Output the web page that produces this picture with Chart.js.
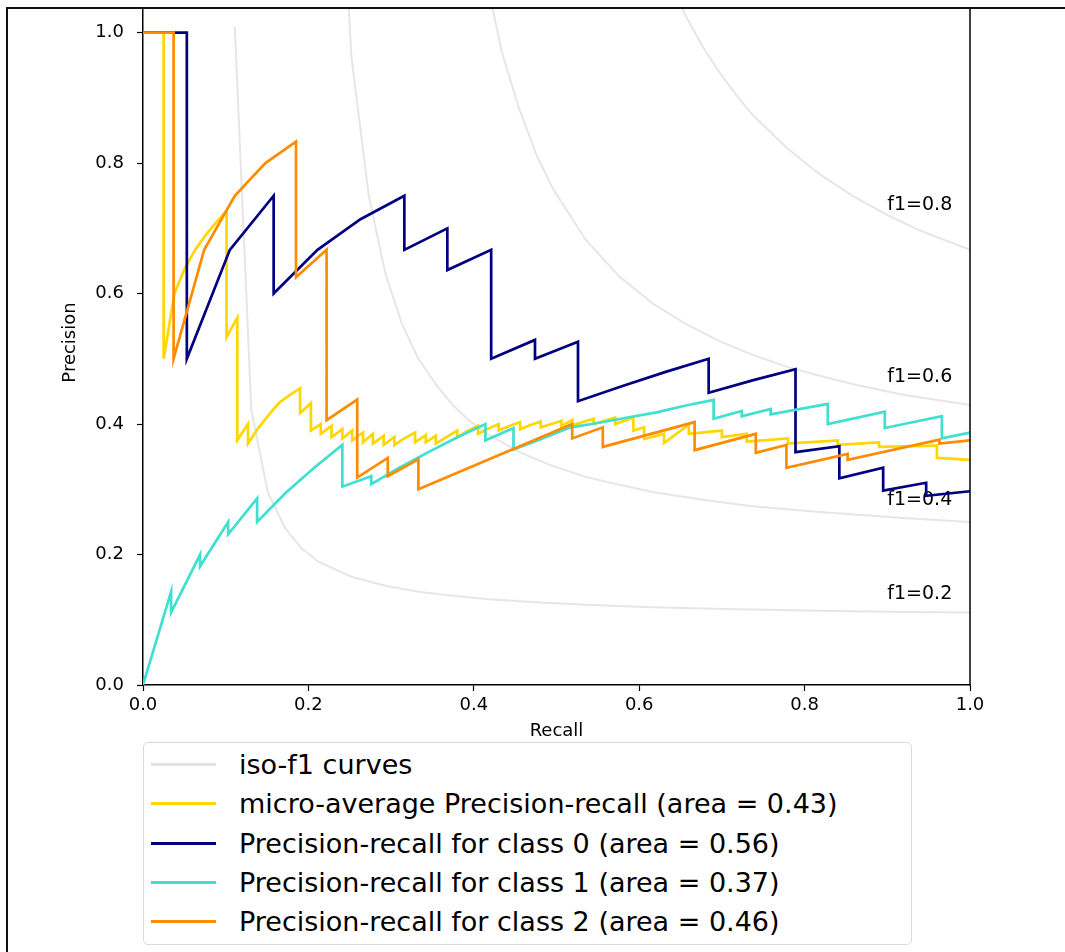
<!DOCTYPE html>
<html>
<head>
<meta charset="utf-8">
<script src="https://cdn.jsdelivr.net/npm/chart.js@4.4.1/dist/chart.umd.min.js"></script>
<style>
html, body { margin: 0; padding: 0; background: #fff; }
#wrap { position: relative; width: 1065px; height: 952px; overflow: hidden; }
#myChart { position: absolute; left: 0; top: 0; }
#legend { position: absolute; left: 143px; top: 742px; width: 767px; height: 201px;
  border: 1px solid #dadada; border-radius: 5px; background: #fff;
  font-family: "DejaVu Sans"; font-size: 27px; color: #000; }
.row { position: absolute; left: 0; width: 100%; height: 39px; }
.row .sw { position: absolute; left: 7px; width: 65px; height: 3px; top: 18px; }
.row .tx { position: absolute; left: 95px; top: 0; line-height: 39px; white-space: nowrap; }
</style>
</head>
<body>
<div id="wrap">
<canvas id="myChart" width="1065" height="952"></canvas>
<div id="legend"></div>
</div>
<script>
var canvas = document.getElementById('myChart');

// axes
var xTicks = [0, 0.2, 0.4, 0.6, 0.8, 1.0];
var yTicks = [0, 0.2, 0.4, 0.6, 0.8, 1.0];

// iso-f1 curves
var iso02x = [0.111, 0.131, 0.151, 0.172, 0.192, 0.212, 0.252, 0.293, 0.333, 0.374, 0.414, 0.475, 0.535, 0.616, 0.717, 0.818, 0.919, 1.0];
var iso02y = [1.009, 0.421, 0.295, 0.240, 0.209, 0.189, 0.166, 0.152, 0.143, 0.137, 0.132, 0.127, 0.123, 0.119, 0.116, 0.114, 0.112, 0.111];
var iso04x = [0.212, 0.232, 0.252, 0.273, 0.293, 0.313, 0.333, 0.354, 0.374, 0.394, 0.414, 0.455, 0.495, 0.535, 0.576, 0.616, 0.677, 0.737, 0.818, 0.919, 1.0];
var iso04y = [3.53, 1.442, 0.963, 0.750, 0.631, 0.554, 0.500, 0.461, 0.430, 0.406, 0.387, 0.357, 0.336, 0.319, 0.307, 0.296, 0.284, 0.274, 0.265, 0.256, 0.250];
var iso06x = [0.394, 0.414, 0.434, 0.455, 0.475, 0.495, 0.535, 0.576, 0.616, 0.657, 0.697, 0.737, 0.778, 0.818, 0.859, 0.919, 1.0];
var iso06y = [1.259, 1.089, 0.970, 0.883, 0.815, 0.762, 0.683, 0.626, 0.585, 0.553, 0.527, 0.506, 0.488, 0.474, 0.461, 0.445, 0.429];
var iso08x = [0.616, 0.636, 0.657, 0.677, 0.697, 0.717, 0.737, 0.778, 0.818, 0.859, 0.899, 0.939, 1.0];
var iso08y = [1.140, 1.077, 1.024, 0.978, 0.939, 0.905, 0.874, 0.824, 0.783, 0.749, 0.721, 0.697, 0.667];

var f1Names = ['f1=0.2', 'f1=0.4', 'f1=0.6', 'f1=0.8'];
var f1LabelX = [0.9, 0.9, 0.9, 0.9];
var f1LabelY = [0.132, 0.276, 0.465, 0.728];

// micro-average
var microRecall = [0, 0.025, 0.025, 0.038, 0.051, 0.063, 0.076, 0.089, 0.101, 0.101, 0.114, 0.114, 0.127, 0.127, 0.139, 0.152, 0.165, 0.177, 0.19, 0.19, 0.203, 0.203,
  0.215, 0.215, 0.228, 0.228, 0.241, 0.241, 0.253, 0.253, 0.266, 0.266, 0.278, 0.278, 0.291, 0.291, 0.304, 0.304, 0.316, 0.329, 0.329, 0.342, 0.342, 0.354, 0.354,
  0.367, 0.38, 0.38, 0.392, 0.405, 0.405, 0.418, 0.43, 0.43, 0.443, 0.456, 0.456, 0.468, 0.481, 0.481, 0.494, 0.506, 0.506, 0.519, 0.519, 0.545, 0.545, 0.571, 0.571,
  0.593, 0.593, 0.606, 0.606, 0.63, 0.63, 0.66, 0.66, 0.70, 0.70, 0.73, 0.73, 0.78, 0.78, 0.84, 0.84, 0.89, 0.89, 0.96, 0.96, 1.0];
var microPrec = [1.0, 1.0, 0.5, 0.6, 0.64, 0.667, 0.69, 0.71, 0.727, 0.533, 0.563, 0.375, 0.4, 0.37, 0.393, 0.414, 0.433, 0.444, 0.455, 0.417, 0.432, 0.39,
  0.40, 0.385, 0.397, 0.38, 0.392, 0.378, 0.39, 0.375, 0.387, 0.372, 0.385, 0.37, 0.382, 0.368, 0.38, 0.368, 0.378, 0.387, 0.372, 0.383, 0.372, 0.382, 0.37,
  0.38, 0.39, 0.38, 0.389, 0.397, 0.385, 0.393, 0.40, 0.39, 0.397, 0.403, 0.392, 0.398, 0.404, 0.395, 0.40, 0.405, 0.397, 0.406, 0.398, 0.408, 0.40, 0.41, 0.40,
  0.41, 0.39, 0.395, 0.377, 0.385, 0.371, 0.399, 0.385, 0.39, 0.38, 0.385, 0.373, 0.378, 0.37, 0.375, 0.368, 0.372, 0.365, 0.367, 0.348, 0.345];

// class 0
var c0Recall = [0, 0.053, 0.053, 0.105, 0.158, 0.158, 0.211, 0.263, 0.316, 0.316, 0.368, 0.368, 0.421, 0.421, 0.474, 0.474, 0.526, 0.526, 0.579, 0.632,
  0.684, 0.684, 0.737, 0.789, 0.789, 0.842, 0.842, 0.895, 0.895, 0.947, 0.947, 1.0];
var c0Prec = [1.0, 1.0, 0.5, 0.667, 0.75, 0.6, 0.667, 0.714, 0.75, 0.667, 0.70, 0.636, 0.667, 0.5, 0.529, 0.5, 0.526, 0.435, 0.458, 0.48,
  0.5, 0.448, 0.467, 0.484, 0.357, 0.366, 0.317, 0.333, 0.298, 0.310, 0.290, 0.297];

// class 1
var c1Recall = [0, 0.034, 0.034, 0.069, 0.069, 0.103, 0.103, 0.138, 0.138, 0.172, 0.207, 0.241, 0.241, 0.276, 0.276, 0.310, 0.345, 0.379, 0.414, 0.414,
  0.448, 0.448, 0.483, 0.517, 0.552, 0.586, 0.621, 0.655, 0.690, 0.690, 0.724, 0.724, 0.759, 0.759, 0.828, 0.828, 0.897, 0.897, 0.966, 0.966, 1.0];
var c1Prec = [0, 0.143, 0.111, 0.2, 0.182, 0.25, 0.231, 0.286, 0.25, 0.294, 0.333, 0.368, 0.304, 0.32, 0.308, 0.333, 0.357, 0.379, 0.4, 0.375,
  0.394, 0.361, 0.378, 0.395, 0.402, 0.41, 0.418, 0.428, 0.437, 0.408, 0.42, 0.412, 0.423, 0.415, 0.431, 0.40, 0.419, 0.394, 0.412, 0.378, 0.387];

// class 2
var c2Recall = [0, 0.037, 0.037, 0.074, 0.111, 0.148, 0.185, 0.185, 0.222, 0.222, 0.259, 0.259, 0.296, 0.296, 0.333, 0.333, 0.519, 0.519, 0.556, 0.556,
  0.667, 0.667, 0.741, 0.741, 0.778, 0.778, 0.852, 0.852, 0.963, 0.963, 1.0];
var c2Prec = [1.0, 1.0, 0.5, 0.667, 0.75, 0.8, 0.833, 0.625, 0.667, 0.406, 0.4375, 0.318, 0.348, 0.32, 0.346, 0.3, 0.4, 0.378, 0.395, 0.365,
  0.403, 0.36, 0.385, 0.356, 0.368, 0.333, 0.354, 0.345, 0.376, 0.37, 0.375];

function pts(xs, ys) {
  return xs.map(function (x, i) { return { x: x, y: ys[i] }; });
}

var isoColor = 'rgba(128,128,128,0.2)';
function isoSet(label, xs, ys) {
  return { label: label, data: pts(xs, ys), borderColor: isoColor, borderWidth: 2, showLine: true, pointRadius: 0, order: 5 };
}
function prSet(label, xs, ys, color, order) {
  return { label: label, data: pts(xs, ys), borderColor: color, borderWidth: 2.7, showLine: true, pointRadius: 0, order: order };
}

var data = {
  datasets: [
    isoSet('iso-f1 curves', iso02x, iso02y),
    isoSet('', iso04x, iso04y),
    isoSet('', iso06x, iso06y),
    isoSet('', iso08x, iso08y),
    prSet('micro-average Precision-recall (area = 0.43)', microRecall, microPrec, '#FFD700', 4),
    prSet('Precision-recall for class 0 (area = 0.56)', c0Recall, c0Prec, '#000080', 3),
    prSet('Precision-recall for class 1 (area = 0.37)', c1Recall, c1Prec, '#40E0D0', 2),
    prSet('Precision-recall for class 2 (area = 0.46)', c2Recall, c2Prec, '#FF8C00', 1)
  ]
};

var tickFont = { family: 'DejaVu Sans', size: 18 };

var framePlugin = {
  id: 'frame',
  beforeDatasetsDraw: function (chart) {
    var ctx = chart.ctx, xs = chart.scales.x, ys = chart.scales.y;
    ctx.save();
    ctx.font = '19px "DejaVu Sans"';
    ctx.fillStyle = '#000';
    ctx.textAlign = 'left';
    ctx.textBaseline = 'alphabetic';
    for (var i = 0; i < f1Names.length; i++) {
      ctx.fillText(f1Names[i], xs.getPixelForValue(f1LabelX[i]), ys.getPixelForValue(f1LabelY[i]));
    }
    ctx.restore();
  },
  afterDraw: function (chart) {
    var ctx = chart.ctx, a = chart.chartArea;
    ctx.save();
    ctx.strokeStyle = '#000';
    ctx.lineWidth = 1.5;
    ctx.beginPath(); ctx.moveTo(a.right, a.top); ctx.lineTo(a.right, a.bottom + 0.75); ctx.stroke();
    // cropped screenshot frame
    ctx.fillStyle = '#fff';
    ctx.fillRect(0, 0, chart.width, 8);
    ctx.lineWidth = 2;
    ctx.strokeStyle = '#111';
    ctx.beginPath(); ctx.moveTo(7, chart.height); ctx.lineTo(7, 8); ctx.lineTo(chart.width, 8); ctx.stroke();
    ctx.restore();
  }
};

var myChart = new Chart(canvas, {
  type: 'scatter',
  data: data,
  options: {
    responsive: false,
    animation: false,
    devicePixelRatio: 1,
    layout: { padding: { left: 0, right: 95, top: 0, bottom: 0 } },
    plugins: { legend: { display: false }, tooltip: { enabled: false } },
    scales: {
      x: {
        type: 'linear', min: 0, max: 1,
        afterBuildTicks: function (s) { s.ticks = xTicks.map(function (v) { return { value: v }; }); },
        afterFit: function (s) { s.height = 267; s.paddingLeft = 0; s.paddingRight = 0; },
        ticks: { callback: function (v) { return v.toFixed(1); }, font: tickFont, color: '#000', padding: 4, maxRotation: 0, autoSkip: false },
        grid: { drawOnChartArea: false, tickLength: 6, tickColor: '#000', tickWidth: 1.2 },
        border: { color: '#000', width: 1.5 },
        title: { display: true, text: 'Recall', font: tickFont, color: '#000', padding: { top: 0, bottom: 210 } }
      },
      y: {
        type: 'linear', min: 0, max: 1.05,
        afterBuildTicks: function (s) { s.ticks = yTicks.map(function (v) { return { value: v }; }); },
        afterFit: function (s) { s.width = 143; s.paddingTop = 0; s.paddingBottom = 0; },
        ticks: { callback: function (v) { return v.toFixed(1); }, font: tickFont, color: '#000', padding: 13, autoSkip: false },
        grid: { drawOnChartArea: false, tickLength: 6, tickColor: '#000', tickWidth: 1.2 },
        border: { color: '#000', width: 1.5 },
        title: { display: true, text: 'Precision', font: tickFont, color: '#000', padding: { top: 60, bottom: 0 } }
      }
    }
  },
  plugins: [framePlugin]
});

// legend box like matplotlib's
var legendEl = document.getElementById('legend');
var row = 0;
myChart.data.datasets.forEach(function (ds) {
  if (!ds.label) return;
  var r = document.createElement('div');
  r.className = 'row';
  r.style.top = (2 + row * 39.3) + 'px';
  var sw = document.createElement('div');
  sw.className = 'sw';
  sw.style.background = ds.borderColor === isoColor ? '#e3e3e3' : ds.borderColor;
  var tx = document.createElement('div');
  tx.className = 'tx';
  tx.textContent = ds.label;
  r.appendChild(sw);
  r.appendChild(tx);
  legendEl.appendChild(r);
  row++;
});
</script>
</body>
</html>
